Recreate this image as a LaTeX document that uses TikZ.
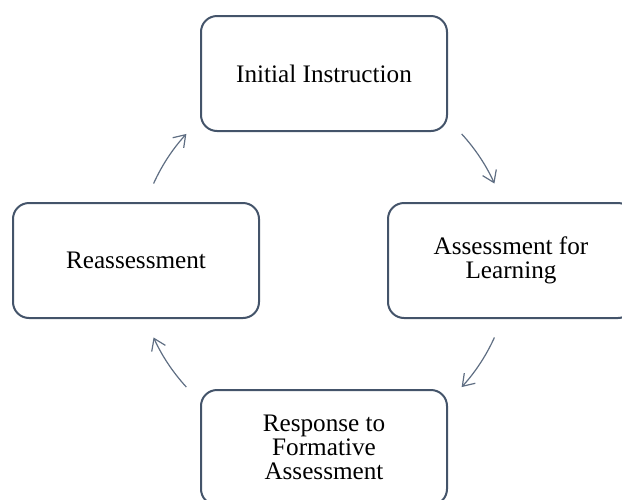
\documentclass[tikz,border=0pt]{standalone}
\usepackage{fontspec}
\setmainfont{Liberation Serif}
\usetikzlibrary{positioning, arrows.meta}
\definecolor{borde}{HTML}{44546A}
\definecolor{flecha}{HTML}{5F6E83}
\tikzset{
    etapa/.style={rectangle, rounded corners=8pt, draw=borde, line width=1pt,
        minimum width=123pt, minimum height=57.5pt, align=center,
        font=\fontsize{12.6}{11.9}\selectfont},
    ciclo/.style={draw=flecha, line width=0.6pt,
        -{Straight Barb[length=5.5pt, width=7.5pt]}},
    anillo/.style={coordinate}}
\begin{document}
\begin{tikzpicture}[x=0.5pt, y=-0.5pt]
    \useasboundingbox (0,0) rectangle (622,499);
    \clip (0,0) rectangle (622,499);
    \coordinate (mid) at (324,260.5);

    \node (inicial) [etapa] at (324,73.5) {Initial Instruction};
    \node (evaluacion) [etapa] at (511,260.5) {Assessment for\\Learning};
    \node (respuesta) [etapa] at (324,447.5) {Response to\\Formative\\Assessment};
    \node (reevaluacion) [etapa] at (136,260.5) {Reassessment};

    % puntos de salida de las flechas sobre el anillo
    \node (sal1) [anillo] at ([shift={(42.6:93.5pt)}]mid) {};
    \node (sal2) [anillo] at ([shift={(-24.3:93.5pt)}]mid) {};
    \node (sal3) [anillo] at ([shift={(222.6:93.5pt)}]mid) {};
    \node (sal4) [anillo] at ([shift={(155.7:93.5pt)}]mid) {};

    \draw[ciclo] (sal1) arc[start angle=42.6, end angle=24.3, radius=93.5pt];
    \draw[ciclo] (sal2) arc[start angle=-24.3, end angle=-42.6, radius=93.5pt];
    \draw[ciclo] (sal3) arc[start angle=222.6, end angle=204.3, radius=93.5pt];
    \draw[ciclo] (sal4) arc[start angle=155.7, end angle=137.4, radius=93.5pt];
\end{tikzpicture}
\end{document}
